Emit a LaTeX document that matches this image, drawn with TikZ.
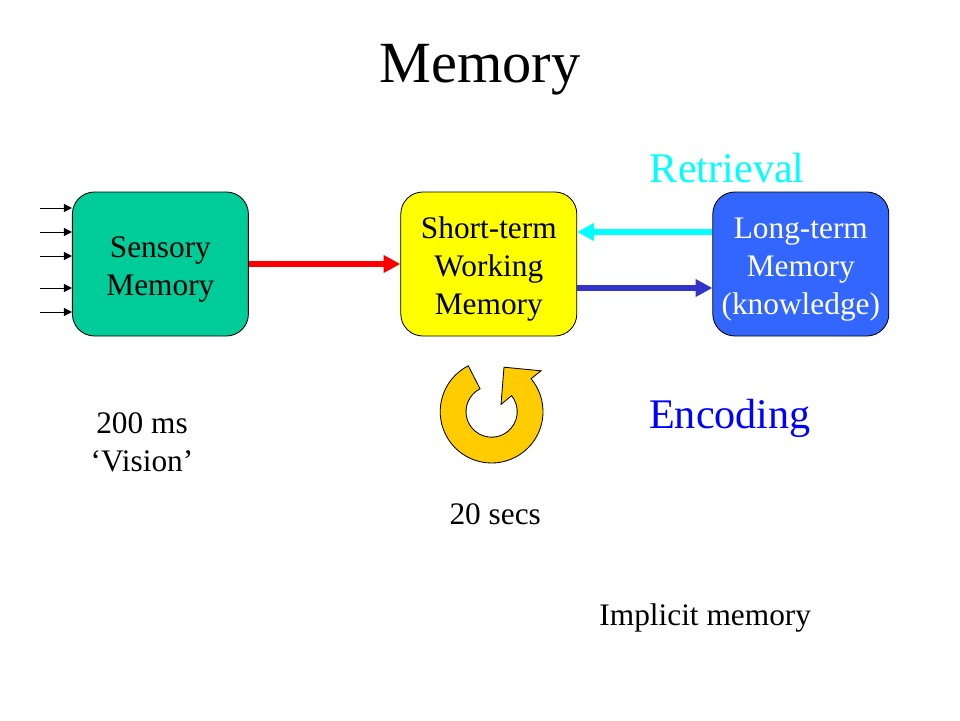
\documentclass[tikz,border=0pt]{standalone}
\usepackage{fontspec}
\setmainfont{Liberation Serif}
\usetikzlibrary{arrows.meta,positioning}
\definecolor{sensorygreen}{RGB}{0,204,153}
\definecolor{shortyellow}{RGB}{255,255,0}
\definecolor{longblue}{RGB}{51,102,255}
\definecolor{loopgold}{RGB}{255,204,0}
\definecolor{retrievecyan}{RGB}{0,255,255}
\definecolor{flowred}{RGB}{255,0,0}
\definecolor{encodeblue}{RGB}{51,51,204}
\definecolor{headblue}{RGB}{0,0,255}
\begin{document}
\begin{tikzpicture}[>=Stealth,
memory/.style={draw=black,line width=.6pt,rounded corners=.55cm,inner sep=0pt,minimum width=4.4cm,minimum height=3.6cm},
note/.style={align=center,inner sep=0pt,font=\fontsize{22.3}{27}\selectfont},
heading/.style={inner sep=0pt,font=\fontsize{30}{36}\selectfont},
flow/.style={-{Triangle[length=.42cm,width=.42cm]},line width=.15cm},
inflow/.style={-{Triangle[length=.2cm,width=.2cm]},line width=.7pt}]
\useasboundingbox (0,0) rectangle (24,18);
\node[inner sep=0pt,font=\fontsize{41.5}{48}\selectfont] (title) at (12,16.27) {Memory};
\node[memory,fill=sensorygreen] (sensory) at (4.01,11.4) {};
\node[memory,fill=shortyellow] (short) at (12.22,11.4) {};
\node[memory,fill=longblue] (long) at (20.02,11.4) {};
\node[note] (sensorytext) at ([yshift=-.13cm]sensory) {Sensory\\Memory};
\node[note] (shorttext) at ([yshift=-.13cm]short) {Short-term\\Working\\Memory};
\node[note,text=white] (longtext) at ([yshift=-.13cm]long) {Long-term\\Memory\\(knowledge)};
\node[heading,text=retrievecyan] (retrieval) at (18.18,13.8) {Retrieval};
\node[heading,text=headblue] (encoding) at (18.25,7.55) {Encoding};
\node[note] (vision) at (3.55,6.95) {200 ms\\‘Vision’};
\node[note] (secs) at (12.38,5.15) {20 secs};
\node[note] (implicit) at (17.63,2.55) {Implicit memory};
% inputs
\foreach \n/\y in {a/12.8,b/12.2,c/11.6,d/10.8,e/10.2}{
  \coordinate (in\n) at (1,\y);
  \draw[inflow] (in\n)--(in\n-|sensory.west);
}
\draw[flow,flowred] (sensory)--(short);
\draw[flow,retrievecyan] ([yshift=.8cm]long.west)--([yshift=.8cm]short.east);
\draw[flow,encodeblue] ([yshift=-.6cm]short.east)--([yshift=-.6cm]long.west);
% rehearsal loop
\coordinate (loop) at (12.29,7.71);
\draw[fill=loopgold,line width=.6pt] (loop)++(117:1.285) arc[start angle=117,end angle=399.8,radius=1.285]
  --(13.525,8.73)--(12.6,8.82)--(12.525,7.89)--(12.79,8.11)
  arc[start angle=38.7,end angle=-243.1,radius=.64]--cycle;
\end{tikzpicture}
\end{document}
